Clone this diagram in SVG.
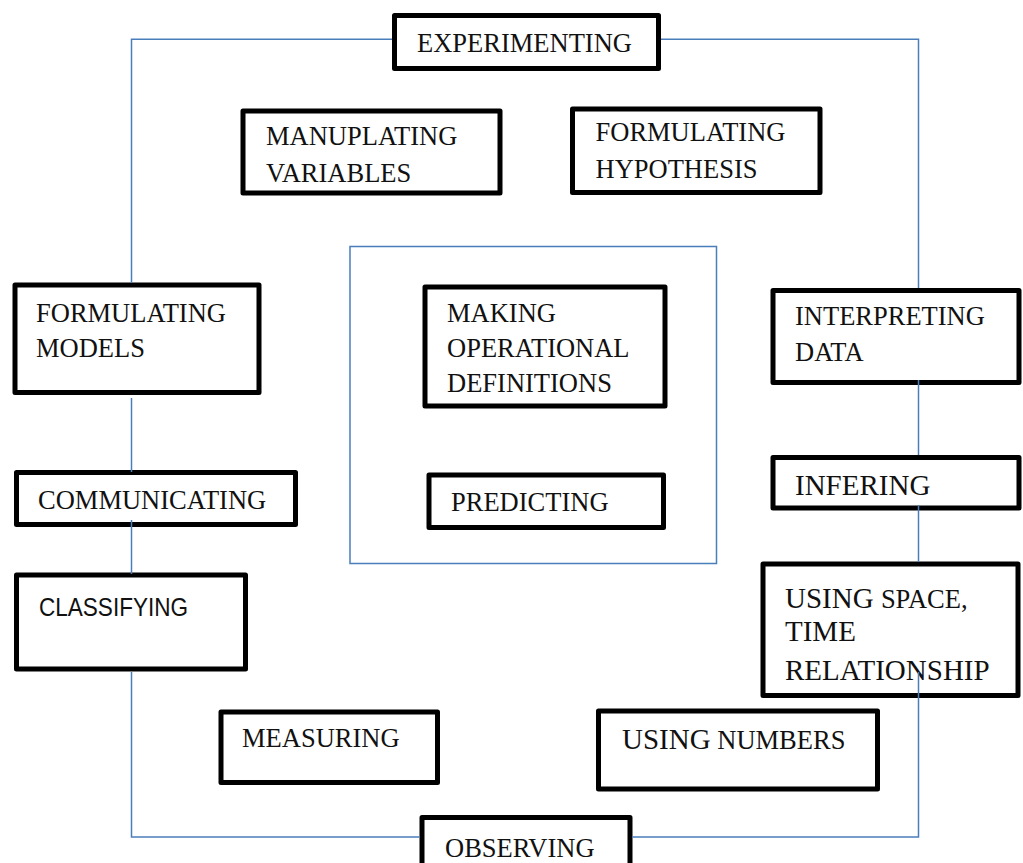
<svg xmlns="http://www.w3.org/2000/svg" width="1023" height="863" viewBox="0 0 1023 863">
  <style>
    .box { fill: #ffffff; stroke: #000000; stroke-width: 5; stroke-linejoin: round; }
    .lbl { font-family: "Liberation Serif", "Times New Roman", serif; font-size: 26.5px; fill: #111111; }
    .big { font-size: 29px; }
    .sans { font-family: "Liberation Sans", Arial, sans-serif; font-size: 25.5px; fill: #111111; }
    .link { fill: none; stroke: #4a7ebb; stroke-width: 1.5; }
  </style>
  <rect width="1023" height="863" fill="#ffffff"/>

  <!-- inner frame around the central skills -->
  <rect id="inner-frame" class="link" x="350" y="246.5" width="366.5" height="317"/>

  <g id="experimenting">
    <rect class="box" x="394.5" y="15.5" width="264" height="53"/>
    <text class="lbl" x="417" y="52">EXPERIMENTING</text>
  </g>
  <g id="manuplating-variables">
    <rect class="box" x="243" y="111" width="257" height="82"/>
    <text class="lbl" x="266" y="145">MANUPLATING</text>
    <text class="lbl" x="266" y="182">VARIABLES</text>
  </g>
  <g id="formulating-hypothesis">
    <rect class="box" x="572.5" y="109" width="247.5" height="83.5"/>
    <text class="lbl" x="595.5" y="141">FORMULATING</text>
    <text class="lbl" x="595.5" y="178">HYPOTHESIS</text>
  </g>
  <g id="formulating-models">
    <rect class="box" x="15" y="285" width="244" height="107.5"/>
    <text class="lbl" x="36" y="322">FORMULATING</text>
    <text class="lbl" x="36" y="357">MODELS</text>
  </g>
  <g id="operational-definitions">
    <rect class="box" x="425" y="287" width="240" height="119"/>
    <text class="lbl" x="447" y="322">MAKING</text>
    <text class="lbl" x="447" y="357">OPERATIONAL</text>
    <text class="lbl" x="447" y="392">DEFINITIONS</text>
  </g>
  <g id="interpreting-data">
    <rect class="box" x="773" y="290.5" width="246" height="92"/>
    <text class="lbl" x="795" y="325">INTERPRETING</text>
    <text class="lbl" x="795" y="361">DATA</text>
  </g>
  <g id="communicating">
    <rect class="box" x="16.5" y="472.5" width="279" height="52"/>
    <text class="lbl" x="38" y="509">COMMUNICATING</text>
  </g>
  <g id="predicting">
    <rect class="box" x="429" y="475" width="234.5" height="52.5"/>
    <text class="lbl" x="451" y="511">PREDICTING</text>
  </g>
  <g id="infering">
    <rect class="box" x="773" y="457.5" width="246" height="50.5"/>
    <text class="lbl big" x="795" y="495">INFERING</text>
  </g>
  <g id="classifying">
    <rect class="box" x="16.5" y="575" width="229" height="94"/>
    <text class="sans" x="39" y="616" textLength="149" lengthAdjust="spacingAndGlyphs">CLASSIFYING</text>
  </g>
  <g id="space-time">
    <rect class="box" x="763" y="564" width="255" height="131.5"/>
    <text class="lbl big" x="785" y="608">USING <tspan font-size="26.5">SPACE,</tspan></text>
    <text class="lbl big" x="785" y="641">TIME</text>
    <text class="lbl big" x="785" y="680">RELATIONSHIP</text>
  </g>
  <g id="measuring">
    <rect class="box" x="221" y="712" width="216.5" height="70.5"/>
    <text class="lbl" x="242" y="747">MEASURING</text>
  </g>
  <g id="using-numbers">
    <rect class="box" x="598.5" y="711" width="279" height="78"/>
    <text class="lbl" x="622" y="749"><tspan font-size="29">USING</tspan> NUMBERS</text>
  </g>
  <g id="observing">
    <rect class="box" x="422" y="817.5" width="208" height="60"/>
    <text class="lbl" x="445" y="857">OBSERVING</text>
  </g>

  <!-- outer cycle connectors -->
  <g id="connectors" class="link">
    <path d="M131.5 283 V39.3 H392"/>
    <path d="M661 39.3 H918.5 V288"/>
    <path d="M131.5 398 V472"/>
    <path d="M131.5 520 V574"/>
    <path d="M131.5 672 V837 H420"/>
    <path d="M632 837 H918.5 V672"/>
    <path d="M918.5 380 V455"/>
    <path d="M918.5 505 V562"/>
  </g>
</svg>
